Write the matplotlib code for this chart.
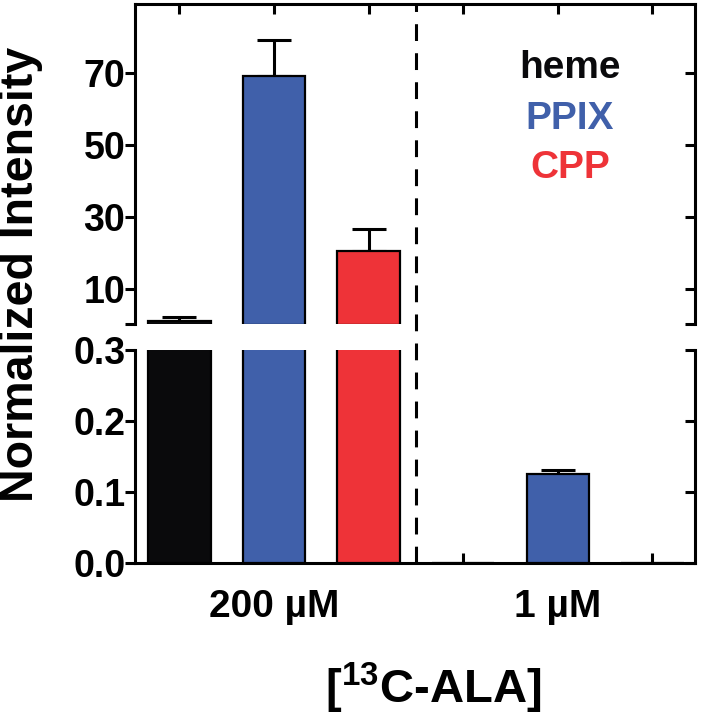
import matplotlib
matplotlib.use('Agg')
import matplotlib.pyplot as plt
import matplotlib.transforms as mtransforms
from matplotlib.lines import Line2D
import numpy as np

plt.rcParams['font.family'] = ['Liberation Sans', 'DejaVu Sans']
plt.rcParams['font.weight'] = 'bold'
plt.rcParams['mathtext.fontset'] = 'custom'
plt.rcParams['mathtext.rm'] = 'Liberation Sans:bold'
plt.rcParams['mathtext.bf'] = 'Liberation Sans:bold'

# data
species = ['heme', 'PPIX', 'CPP']
groups = ['200 µM', '1 µM']
values_200 = [1.1, 69.0, 20.5]
errors_200 = [1.0, 9.9, 6.0]
values_1 = [0.0, 0.125, 0.0]
errors_1 = [0.0, 0.006, 0.0]
colors = ['#0a0a0c', '#4060aa', '#ee3338']
top_ticks = [10, 30, 50, 70]
bottom_ticks = [0.0, 0.1, 0.2, 0.3]

values = np.array(values_200 + values_1)
errors = np.array(errors_200 + errors_1)
bar_colors = np.array(colors + colors)
x = np.arange(len(values))

fig = plt.figure(figsize=(7.07, 7.24), dpi=100)
left, width = 0.191, 0.792
ax_top = fig.add_axes([left, 0.5525, width, 0.442])
ax_bot = fig.add_axes([left, 0.2224, width, 0.2942])

top_lo = 0.3
lw = 2.2
for ax, keep in ((ax_top, values > top_lo), (ax_bot, values >= 0)):
    ax.bar(x[keep], values[keep], width=0.66, color=bar_colors[keep],
           edgecolor='black', linewidth=1.6, zorder=3)
    sel = keep & (errors > 0)
    ax.errorbar(x[sel], values[sel], yerr=[np.zeros(sel.sum()), errors[sel]], fmt='none',
                ecolor='black', elinewidth=2.2, capsize=12, capthick=2.2, zorder=2)
    ax.set_xlim(-0.47, 5.45)
    for s in ax.spines.values():
        s.set_linewidth(lw)
    ax.set_xticks(x)
    ax.yaxis.remove_overlapping_locs = False
    ax.tick_params(axis='y', which='major', direction='out', length=7, width=lw,
                   left=True, right=False, labelsize=27, pad=0)
    ax.tick_params(axis='y', which='minor', direction='in', length=7, width=lw,
                   left=False, right=True)

# top panel
ax_top.set_ylim(top_lo, 89)
ax_top.set_yticks([top_lo] + top_ticks)
ax_top.set_yticklabels([''] + [str(t) for t in top_ticks])
ax_top.set_yticks([top_lo] + top_ticks, minor=True)
ax_top.spines['bottom'].set_visible(False)
ax_top.tick_params(axis='x', direction='in', length=7, width=lw,
                   top=True, bottom=False, labelbottom=False)

# bottom panel
ax_bot.set_ylim(0, 0.3)
ax_bot.set_yticks(bottom_ticks)
ax_bot.set_yticklabels([f'{t:.1f}' for t in bottom_ticks])
ax_bot.set_yticks(bottom_ticks, minor=True)
ax_bot.spines['top'].set_visible(False)
ax_bot.tick_params(axis='x', direction='in', length=7, width=lw,
                   top=False, bottom=True, labelsize=28, pad=19)
ax_bot.set_xticklabels(['', groups[0], '', '', groups[1], ''])

# dashed separator across both panels
trans = mtransforms.blended_transform_factory(ax_bot.transData, fig.transFigure)
fig.add_artist(Line2D([2.5, 2.5], [0.2224, 0.9945], transform=trans, color='black',
                      linewidth=2.2, linestyle=(0, (5.5, 4))))

# labels
fig.text(21 / 707, 1 - 274 / 724, 'Normalized Intensity', rotation=90, ha='center',
         va='center', fontsize=33.5, fontweight='bold')
fig.text(0.612, 1 - 688 / 724, r'[$^{13}$C-ALA]', ha='center', va='center',
         fontsize=34, fontweight='bold')

# species key
for name, col, yy in zip(species, colors, [68, 119, 168]):
    fig.text(570 / 707, 1 - yy / 724, name, color=col, ha='center', va='center',
             fontsize=28, fontweight='bold')

fig.savefig('out.png', dpi=100)
